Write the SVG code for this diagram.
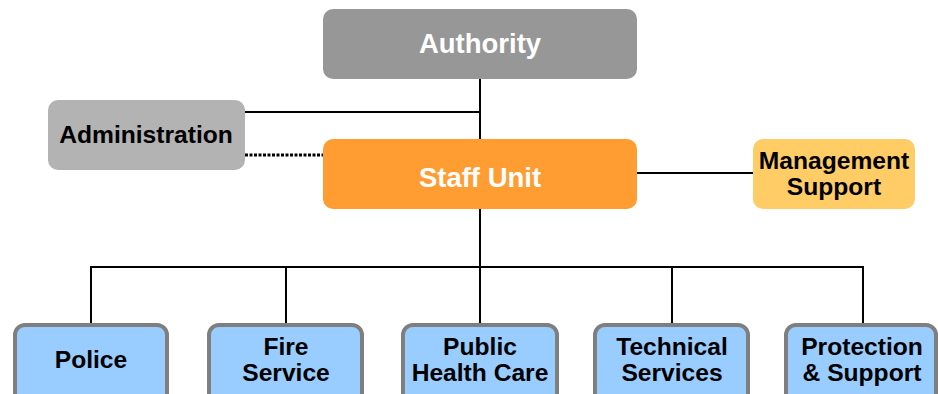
<svg xmlns="http://www.w3.org/2000/svg" width="938" height="394" viewBox="0 0 938 394">
<style>
text{font-family:"Liberation Sans",Arial,sans-serif;font-weight:bold;text-anchor:middle}
.big{font-size:27.5px;fill:#fff}
.t{font-size:24.6px;fill:#000}
.ln{stroke:#000;stroke-width:2;fill:none}
.unit rect{fill:#99CCFF;stroke:#7F7F7F;stroke-width:4}
</style>
<rect width="938" height="394" fill="#fff"/>
<g id="connectors">
<path class="ln" d="M480 79V267M245 112H480M480 209V267M637 173H753M91 323V267H863V323M286 267V323M480 267V323M672 267V323"/>
<path d="M245 155H323" stroke="#000" stroke-width="3" stroke-dasharray="3 1.5" fill="none"/>
</g>
<g id="authority"><rect x="323" y="9" width="314" height="70" rx="10" fill="#979797"/><text class="big" x="480" y="53">Authority</text></g>
<g id="administration"><rect x="48" y="100" width="197" height="70" rx="10" fill="#B3B3B3"/><text class="t" x="146" y="143">Administration</text></g>
<g id="staff-unit"><rect x="323" y="139" width="314" height="70" rx="10" fill="#FF9D33"/><text class="big" x="480" y="187">Staff Unit</text></g>
<g id="management-support"><rect x="753" y="139" width="162" height="70" rx="10" fill="#FFCC66"/><text class="t" x="834" y="169">Management</text><text class="t" x="834" y="195">Support</text></g>
<g id="police" class="unit"><rect x="15" y="325" width="152" height="80" rx="10"/><text class="t" x="91" y="368">Police</text></g>
<g id="fire-service" class="unit"><rect x="209" y="325" width="153" height="80" rx="10"/><text class="t" x="286" y="355">Fire</text><text class="t" x="286" y="381">Service</text></g>
<g id="public-health-care" class="unit"><rect x="403" y="325" width="154" height="80" rx="10"/><text class="t" x="480" y="355">Public</text><text class="t" x="480" y="381">Health Care</text></g>
<g id="technical-services" class="unit"><rect x="595" y="325" width="153" height="80" rx="10"/><text class="t" x="672" y="355">Technical</text><text class="t" x="672" y="381">Services</text></g>
<g id="protection-support" class="unit"><rect x="786" y="325" width="150" height="80" rx="10"/><text class="t" x="862" y="355">Protection</text><text class="t" x="862" y="381">&amp; Support</text></g>
</svg>
